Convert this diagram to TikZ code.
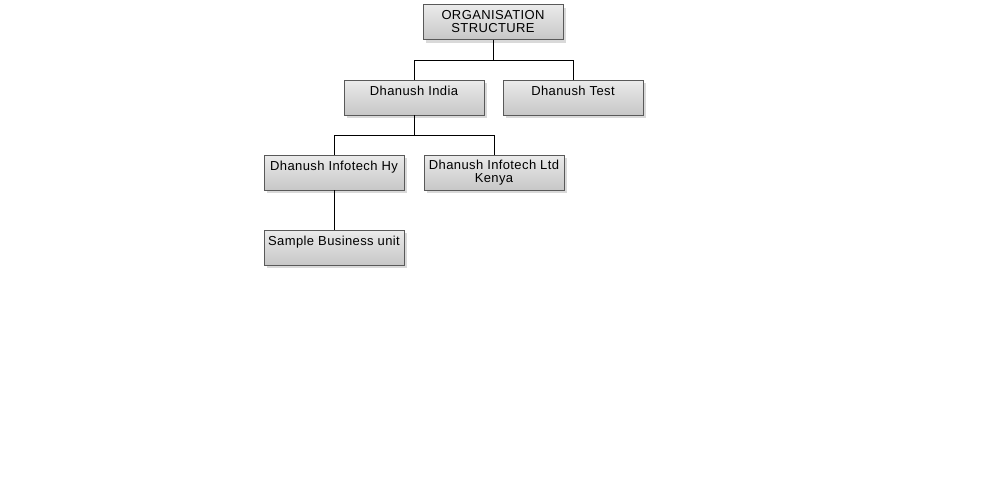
\documentclass[tikz,border=0pt]{standalone}
\usepackage{fontspec}
\newfontfamily\orgfont[LetterSpace=3]{Liberation Sans}
\usepackage{tikz}
\usetikzlibrary{shadows}

\tikzset{
  orgbox/.style={draw=black!65, line width=0.8pt,
    top color=black!8, middle color=white, bottom color=black!22,
    drop shadow={opacity=1, fill=black!15, shadow xshift=3pt, shadow yshift=-3pt},
    minimum width=140pt, minimum height=35pt, inner sep=0pt,
    align=center, font=\orgfont\fontsize{13}{13}\selectfont},
  orgline/.style={black, line width=1pt}
}

\begin{document}
\begin{tikzpicture}[x=1pt, y=-1pt]
  % Fix the page size
  \useasboundingbox (0,0) rectangle (986,490);

  % Draw the boxes
  \node[orgbox] (root) at (493,22) {ORGANISATION\\STRUCTURE};
  \node[orgbox] (india) at (414,97.5) {Dhanush India\\~};
  \node[orgbox] (test) at (573,97.5) {Dhanush Test\\~};
  \node[orgbox] (hy) at (334,172.5) {Dhanush Infotech Hy\\~};
  \node[orgbox] (kenya) at (494,172.5) {Dhanush Infotech Ltd\\Kenya};
  \node[orgbox] (sample) at (334,247.5) {Sample Business unit\\~};

  % Draw the connectors
  \draw[orgline] (root.south) -- ++(0,20.5) coordinate (rootbus);
  \draw[orgline] (india.north) |- (rootbus) -| (test.north);
  \draw[orgline] (india.south) -- ++(0,20) coordinate (indiabus);
  \draw[orgline] (hy.north) |- (indiabus) -| (kenya.north);
  \draw[orgline] (hy.south) -- (sample.north);
\end{tikzpicture}
\end{document}
